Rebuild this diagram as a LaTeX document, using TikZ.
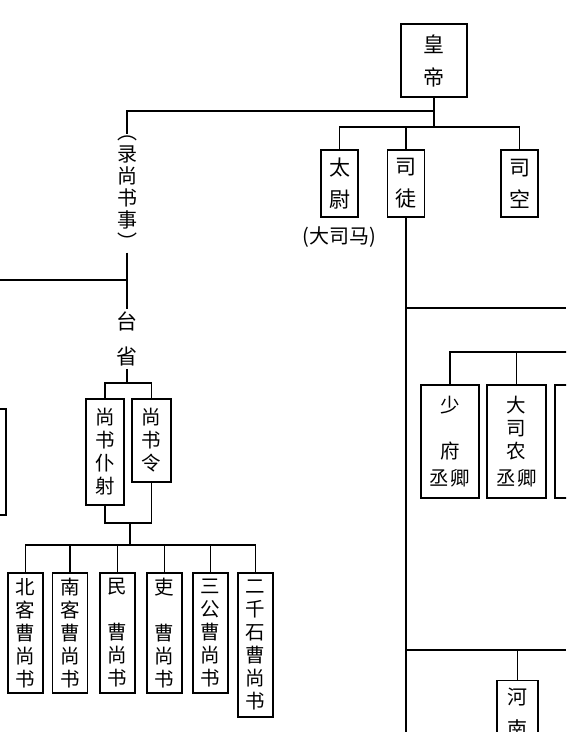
\documentclass[tikz,border=0pt]{standalone}
\usepackage{fontspec}
\newfontfamily\cjk{Noto Sans CJK SC}
\usetikzlibrary{positioning}

\begin{document}
\begin{tikzpicture}[x=1pt, y=-1pt, line width=1.3pt,
        box/.style={draw, inner sep=0pt, align=center, minimum width=35pt, font=\cjk\fontsize{19.5}{23}\selectfont},
        sangong/.style={box, minimum width=37pt, minimum height=67pt, font=\cjk\fontsize{21}{32}\selectfont},
        cao/.style={box, minimum height=120pt},
        qing/.style={box, minimum width=58pt, minimum height=113pt},
        lbl/.style={inner sep=2pt, align=center, font=\cjk\fontsize{20}{23}\selectfont}]
    \useasboundingbox (0,0) rectangle (566,732);
    \clip (0,0) rectangle (566,732);

    \node[box, minimum width=66pt, minimum height=73pt, font=\cjk\fontsize{21}{33}\selectfont] (huangdi) at (434,60.5) {皇\\帝};
    \node[sangong] (taiwei) at (339.5,183.5) {太\\尉};
    \node[sangong] (situ) at (406,183.5) {司\\徒};
    \node[sangong] (sikong) at (519.5,183.5) {司\\空};
    \node[lbl, below=6pt of taiwei] (dasima) {(大司马)};

    \node[lbl, font=\cjk\fontsize{20}{22}\selectfont] (lushang) at (127,193) {︵\\录\\尚\\书\\事\\︶};
    \node[lbl, font=\cjk\fontsize{21}{35}\selectfont] (taisheng) at (127,339) {台\\省};
    \node[box, minimum width=38pt, minimum height=106pt] (puye) at (105,452) {尚\\书\\仆\\射};
    \node[box, minimum width=39pt, minimum height=83pt] (ling) at (151.5,440.5) {尚\\书\\令};
    \node[box, minimum width=46pt, minimum height=106pt] (zuo) at (-17,462) {};

    \node[cao] (beike) at (25.5,633) {北\\客\\曹\\尚\\书};
    \node[cao] (nanke) at (70,633) {南\\客\\曹\\尚\\书};
    \node[cao] (min) at (117.5,633) {民\\[23pt]曹\\尚\\书};
    \node[cao] (li) at (164.5,633) {吏\\[23pt]曹\\尚\\书};
    \node[cao] (sangongcao) at (210.5,633) {三\\公\\曹\\尚\\书};
    \node[cao, minimum height=144pt] (erqian) at (255.5,645) {二\\千\\石\\曹\\尚\\书};

    \node[qing] (shaofu) at (450,441.5) {少\\[23pt]府\\[4pt]丞\hspace{2pt}卿};
    \node[qing, minimum width=59pt] (dasinong) at (516.5,441.5) {大\\司\\农\\[4pt]丞\hspace{2pt}卿};
    \node[qing, minimum width=59pt] (disan) at (584.5,441.5) {};
    \node[box, minimum width=41pt, minimum height=96pt, anchor=north, font=\cjk\fontsize{20}{32}\selectfont] (henan) at (517.5,680) {河\\南\\尹};

    \coordinate (b0) at (434,111);
    \coordinate (b1) at (434,127);
    \draw (huangdi.south) -- (b1);
    \draw (taiwei.north) |- (b1) -| (sikong.north);
    \draw (situ.north) -- (situ.north |- b1);
    \draw (b0) -| (lushang.north);

    \coordinate (j1) at (127,280);
    \coordinate (w1) at (0,280);
    \draw (lushang.south) -- (j1) -- (taisheng.north);
    \draw (j1) -- (w1);
    \coordinate (b2) at (127,383);
    \draw (taisheng.south) -- (b2);
    \draw (puye.north) |- (b2) -| (ling.north);
    \coordinate (b3) at (130,523);
    \coordinate (b4) at (130,545);
    \draw (puye.south) |- (b3) -| (ling.south);
    \draw (b3) -- (b4);
    \draw (beike.north) |- (b4) -| (erqian.north);
    \foreach \n in {nanke, min, li, sangongcao}
        \draw (\n.north) -- (\n.north |- b4);

    \coordinate (e1) at (406,732);
    \draw (situ.south) -- (e1);
    \coordinate (r1) at (406,308);
    \coordinate (r1e) at (566,308);
    \draw (r1) -- (r1e);
    \coordinate (b5) at (600,352);
    \draw (shaofu.north) |- (b5);
    \draw (dasinong.north) -- (dasinong.north |- b5);
    \draw (disan.north) -- (disan.north |- b5);
    \coordinate (r2) at (406,650);
    \coordinate (r2e) at (566,650);
    \draw (r2) -- (r2e);
    \draw (henan.north) -- (henan.north |- r2);
\end{tikzpicture}
\end{document}
